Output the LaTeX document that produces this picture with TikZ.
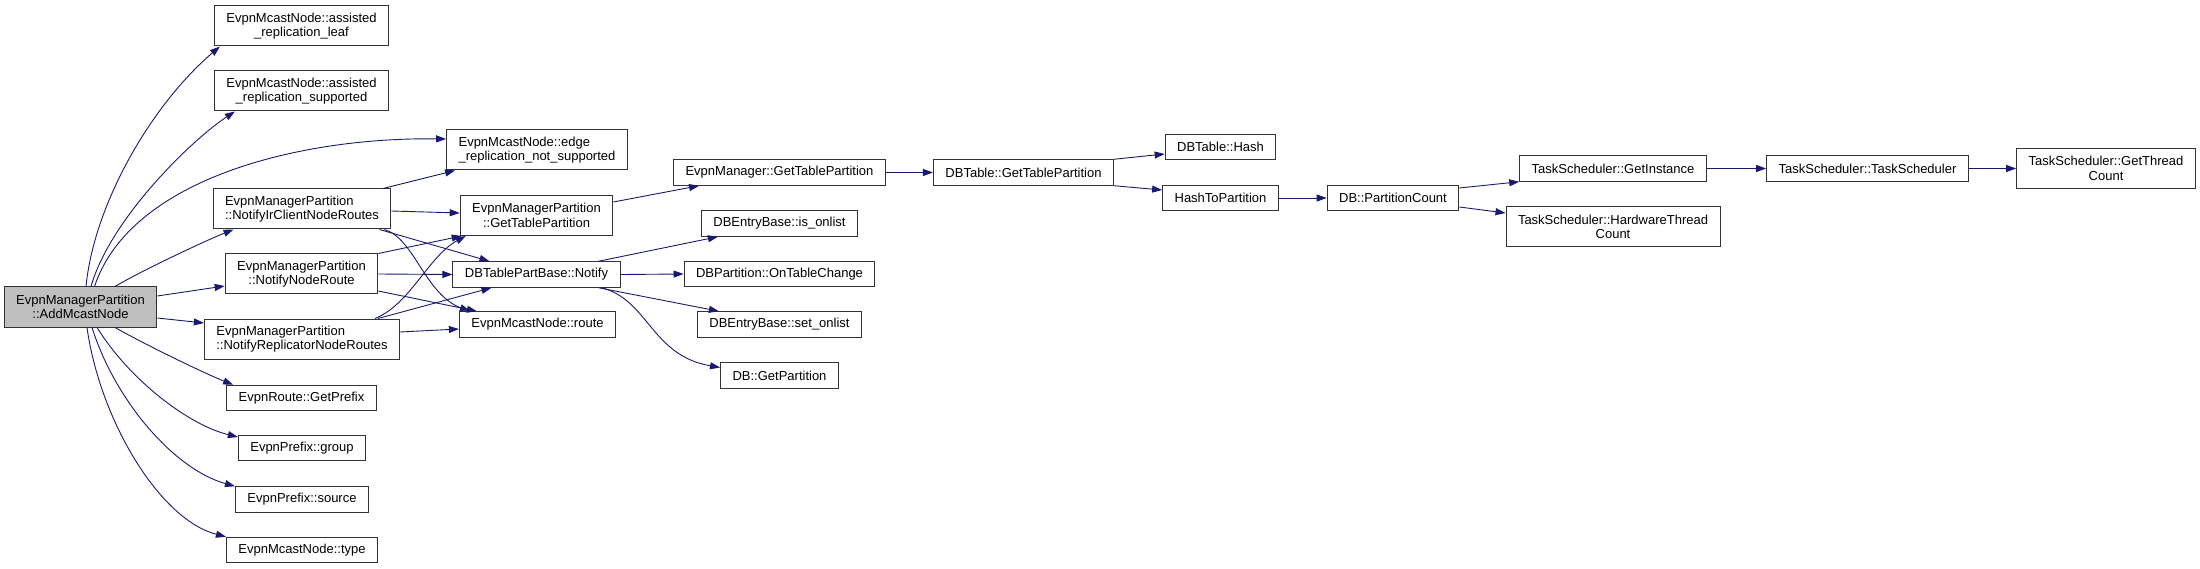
\documentclass[tikz,border=0pt]{standalone}
\usepackage{fontspec}
\setmainfont{Liberation Sans}
\usepackage{tikz}
\usetikzlibrary{arrows.meta,calc,positioning}
\definecolor{edgeblue}{HTML}{191970}
\definecolor{callergray}{HTML}{BFBFBF}
\tikzset{
  fn/.style={draw=black!80, line width=1pt, fill=white, inner xsep=12pt, inner ysep=2pt,
    minimum height=25.5pt, align=center, font=\fontsize{13pt}{14.3pt}\selectfont},
  twol/.style={minimum height=40pt},
  caller/.style={fill=callergray},
  call/.style={->, draw=edgeblue, line width=0.9pt}
}
\begin{document}
\begin{tikzpicture}[x=1pt, y=-1pt, >={Triangle[length=10pt,width=7pt]}]
  \useasboundingbox (0,0) rectangle (2200,569);
  \node[fn,caller,twol] (amcast) at (80.5,307) {EvpnManagerPartition\\::AddMcastNode};
  \node[fn,twol] (arleaf) at (301.5,26) {EvpnMcastNode::assisted\\\_replication\_leaf};
  \node[fn,twol] (arsupp) at (301.5,91) {EvpnMcastNode::assisted\\\_replication\_supported};
  \node[fn,twol,align=left] (notifyir) at (302,209) {EvpnManagerPartition\\::NotifyIrClientNodeRoutes};
  \node[fn,twol] (notifynode) at (301.5,274) {EvpnManagerPartition\\::NotifyNodeRoute};
  \node[fn,twol,align=left] (notifyrep) at (302,339) {EvpnManagerPartition\\::NotifyReplicatorNodeRoutes};
  \node[fn] (getprefix) at (301.5,398) {EvpnRoute::GetPrefix};
  \node[fn] (group) at (302,448) {EvpnPrefix::group};
  \node[fn] (source) at (302,499.5) {EvpnPrefix::source};
  \node[fn] (mtype) at (302,550) {EvpnMcastNode::type};
  \node[fn,twol,align=left] (edgerep) at (537,150) {EvpnMcastNode::edge\\\_replication\_not\_supported};
  \node[fn,twol] (empgtp) at (536.5,215.5) {EvpnManagerPartition\\::GetTablePartition};
  \node[fn] (notify) at (536.5,274.5) {DBTablePartBase::Notify};
  \node[fn] (route) at (537.5,324.5) {EvpnMcastNode::route};
  \node[fn] (emgtp) at (779.5,172.5) {EvpnManager::GetTablePartition};
  \node[fn] (isonlist) at (779.5,223.5) {DBEntryBase::is\_onlist};
  \node[fn] (ontable) at (779.5,274) {DBPartition::OnTableChange};
  \node[fn] (setonlist) at (779.5,324.5) {DBEntryBase::set\_onlist};
  \node[fn] (getpart) at (779.5,375.5) {DB::GetPartition};
  \node[fn] (dbtgtp) at (1023.5,172.5) {DBTable::GetTablePartition};
  \node[fn] (hash) at (1220.5,147) {DBTable::Hash};
  \node[fn] (hashpart) at (1220.5,198) {HashToPartition};
  \node[fn] (partcount) at (1393,198) {DB::PartitionCount};
  \node[fn] (getinst) at (1613,168.5) {TaskScheduler::GetInstance};
  \node[fn,twol] (hwcount) at (1613,227) {TaskScheduler::HardwareThread\\Count};
  \node[fn] (tsched) at (1867.5,168.5) {TaskScheduler::TaskScheduler};
  \node[fn,twol] (getthread) at (2106,168.5) {TaskScheduler::GetThread\\Count};

  \draw[call] ($(amcast.north)+(5.5,0)$) .. controls +(8,-82) and +(-69,59) .. ($(arleaf.south west)+(6,0)$);
  \draw[call] ($(amcast.north)+(10.5,0)$) .. controls +(19,-67) and +(-44,29) .. ($(arsupp.south west)+(21,0)$);
  \draw[call] ($(amcast.north)+(14,0)$) .. controls +(35.5,-107) and +(-148,-2) .. ($(edgerep.west)+(0,-11)$);
  \draw[call] ($(amcast.north)+(34.5,0)$) .. controls +(25,-15) and +(-30,12) .. ($(notifyir.south west)+(21,0)$);
  \draw[call] ($(amcast.east)+(0,-11)$) -- ($(notifynode.west)+(0,12)$);
  \draw[call] ($(amcast.east)+(0,11)$) -- ($(notifyrep.west)+(0,-16)$);
  \draw[call] ($(amcast.south)+(34.5,0)$) .. controls +(30,17) and +(-30,-12) .. ($(getprefix.north west)+(7,0)$);
  \draw[call] ($(amcast.south)+(16.5,0)$) .. controls +(33,53) and +(-49,-12) .. ($(group.west)+(0,-11)$);
  \draw[call] ($(amcast.south)+(11.5,0)$) .. controls +(23,73) and +(-61,-17) .. (source.north west);
  \draw[call] ($(amcast.south)+(6.5,0)$) .. controls +(13,93) and +(-66,-17) .. (mtype.north west);

  \draw[call] ($(notifyir.north)+(81,0)$) -- ($(edgerep.south west)+(9,0)$);
  \draw[call] ($(notifyir.east)+(0,2)$) -- ($(empgtp.west)+(0,-2.5)$);
  \draw[call] ($(notifyir.south east)+(-12,0)$) -- ($(notify.north west)+(37,0)$);
  \draw[call] ($(notifyir.south east)+(-7,0)$) .. controls +(30,9) and +(-45,-17) .. ($(route.north west)+(11,0)$);
  \draw[call] (notifynode.north east) -- ($(empgtp.south west)+(2,0)$);
  \draw[call] (notifynode.east) -- (notify.west);
  \draw[call] ($(notifynode.east)+(0,17)$) -- ($(route.north west)+(18,0)$);
  \draw[call] ($(notifyrep.north)+(73,0)$) .. controls +(35,-14) and +(-37,20) .. ($(empgtp.south west)+(6,0)$);
  \draw[call] ($(notifyrep.north)+(76,0)$) -- ($(notify.south west)+(39,0)$);
  \draw[call] ($(notifyrep.east)+(0,-7)$) -- ($(route.west)+(0,4.5)$);

  \draw[call] ($(empgtp.east)+(0,-13.5)$) -- ($(emgtp.south west)+(26,0)$);
  \draw[call] ($(notify.north east)+(-22,0)$) -- ($(isonlist.south west)+(17,0)$);
  \draw[call] (notify.east) -- (ontable.west);
  \draw[call] ($(notify.south east)+(-22,0)$) -- ($(setonlist.north west)+(22,0)$);
  \draw[call] ($(notify.south east)+(-19,0)$) .. controls +(47,12) and +(-69,-12) .. ($(getpart.west)+(0,-8)$);

  \draw[call] (emgtp.east) -- (dbtgtp.west);
  \draw[call] (dbtgtp.north east) -- ($(hash.west)+(0,7)$);
  \draw[call] (dbtgtp.south east) -- ($(hashpart.west)+(0,-8)$);
  \draw[call] (hashpart.east) -- (partcount.west);
  \draw[call] ($(partcount.east)+(0,-10)$) -- (getinst.south west);
  \draw[call] ($(partcount.east)+(0,9)$) -- ($(hwcount.west)+(0,-14)$);
  \draw[call] (getinst.east) -- (tsched.west);
  \draw[call] (tsched.east) -- (getthread.west);
\end{tikzpicture}
\end{document}
